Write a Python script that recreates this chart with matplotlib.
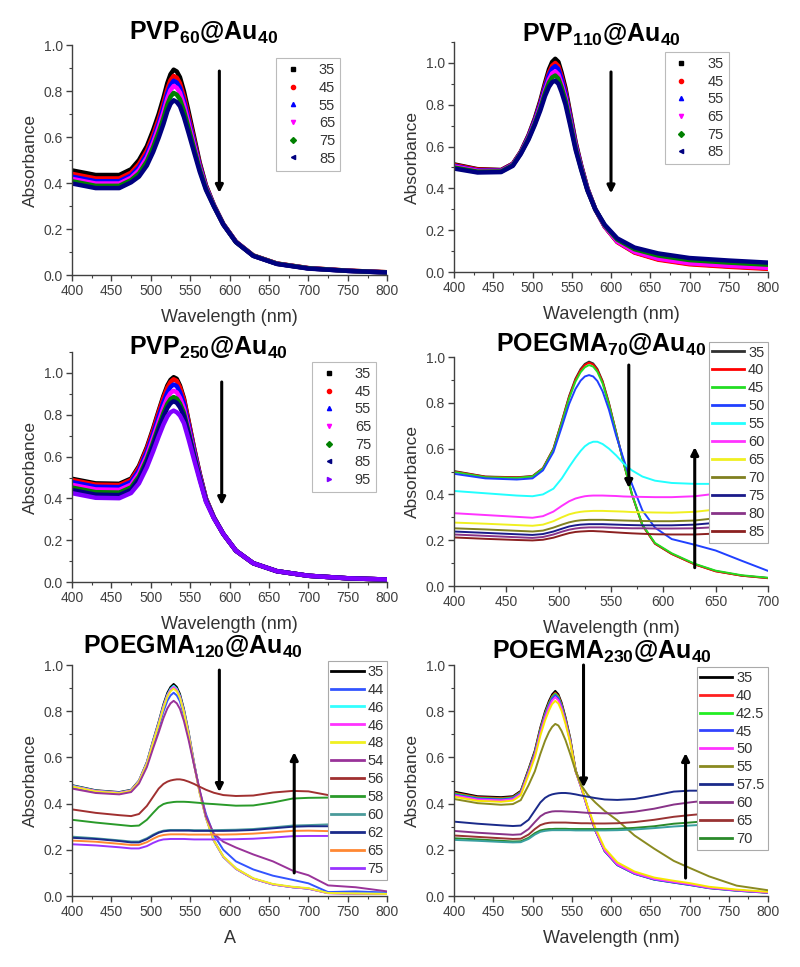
import matplotlib
matplotlib.use('Agg')
import matplotlib.pyplot as plt
from matplotlib.lines import Line2D
from matplotlib.ticker import MultipleLocator

plt.rcParams['font.family'] = ['Liberation Sans', 'DejaVu Sans']
plt.rcParams['mathtext.fontset'] = 'custom'
plt.rcParams['mathtext.rm'] = 'Liberation Sans'
plt.rcParams['mathtext.bf'] = 'Liberation Sans:bold'

# ---------------- data ----------------
wl_pvp = [400, 430, 460, 475, 485, 495, 503, 510, 516, 521, 525, 529, 533, 537, 542, 548,
          555, 562, 570, 580, 592, 608, 630, 660, 700, 750, 800]
wl_p70 = [400, 430, 460, 475, 485, 495, 503, 510, 516, 521, 525, 529, 533, 537, 542, 548,
          555, 562, 570, 580, 592, 608, 630, 650, 675, 700]
wl_poe = [400, 430, 460, 475, 485, 495, 503, 510, 516, 521, 525, 529, 533, 537, 542, 548,
          555, 562, 570, 580, 592, 608, 630, 655, 680, 700, 725, 760, 800]

# PVP60@Au40
pvp60_temps = ['35', '45', '55', '65', '75', '85']
pvp60_abs = [
    [.455, .435, .435, .460, .500, .560, .630, .700, .770, .835, .873, .893, .885, .860, .800, .710, .600, .490, .390, .305, .222, .145, .085, .050, .030, .019, .012],
    [.440, .420, .420, .445, .483, .541, .609, .678, .746, .809, .847, .866, .858, .834, .777, .691, .586, .482, .386, .304, .222, .145, .085, .050, .030, .019, .012],
    [.428, .408, .408, .433, .469, .526, .592, .660, .727, .790, .826, .845, .837, .814, .759, .676, .576, .476, .383, .303, .221, .144, .084, .049, .029, .018, .011],
    [.418, .398, .398, .423, .456, .511, .576, .643, .707, .768, .804, .822, .814, .793, .740, .660, .564, .469, .379, .301, .220, .144, .084, .049, .029, .018, .011],
    [.408, .388, .388, .413, .442, .494, .556, .621, .682, .741, .775, .792, .784, .764, .714, .639, .549, .460, .375, .300, .220, .143, .084, .049, .029, .018, .011],
    [.398, .378, .378, .403, .428, .476, .535, .597, .656, .712, .744, .760, .752, .734, .687, .617, .533, .450, .370, .298, .219, .143, .083, .048, .028, .018, .011],
]

# PVP110@Au40
pvp110_temps = ['35', '45', '55', '65', '75', '85']
pvp110_abs = [
    [.515, .492, .488, .518, .575, .655, .735, .820, .905, .970, 1.005, 1.020, 1.005, .955, .880, .760, .620, .510, .400, .300, .218, .145, .095, .062, .040, .028, .018],
    [.512, .490, .487, .517, .573, .651, .729, .811, .893, .954, .987, 1.000, .985, .937, .865, .749, .613, .506, .398, .300, .217, .143, .093, .059, .037, .025, .015],
    [.508, .486, .485, .515, .571, .648, .725, .804, .884, .942, .973, .985, .970, .923, .854, .741, .608, .503, .397, .300, .219, .147, .098, .066, .044, .032, .022],
    [.505, .484, .483, .513, .569, .643, .717, .793, .869, .922, .950, .960, .945, .901, .835, .727, .599, .498, .394, .300, .219, .146, .097, .064, .042, .030, .020],
    [.500, .480, .481, .511, .567, .639, .711, .784, .857, .906, .931, .940, .925, .883, .820, .716, .592, .494, .392, .300, .223, .155, .109, .079, .057, .045, .035],
    [.495, .476, .478, .508, .564, .634, .704, .773, .842, .886, .908, .915, .900, .861, .801, .702, .583, .489, .390, .300, .226, .161, .117, .089, .067, .055, .045],
]

# PVP250@Au40
pvp250_temps = ['35', '45', '55', '65', '75', '85', '95']
pvp250_abs = [
    [.494, .472, .470, .495, .555, .645, .735, .820, .890, .940, .967, .980, .972, .940, .880, .770, .640, .520, .400, .310, .230, .150, .090, .052, .030, .018, .012],
    [.488, .466, .464, .489, .548, .638, .727, .812, .881, .930, .957, .970, .962, .931, .873, .765, .637, .518, .399, .310, .230, .150, .090, .052, .030, .018, .012],
    [.478, .456, .454, .479, .536, .623, .710, .793, .860, .907, .933, .945, .937, .908, .854, .751, .628, .513, .397, .309, .230, .150, .090, .052, .030, .018, .012],
    [.465, .443, .441, .466, .521, .605, .690, .769, .834, .880, .904, .915, .907, .881, .831, .734, .617, .507, .394, .308, .230, .150, .090, .052, .030, .018, .012],
    [.452, .430, .428, .453, .505, .587, .669, .746, .808, .852, .875, .885, .877, .854, .809, .718, .607, .501, .391, .307, .230, .150, .090, .052, .030, .018, .012],
    [.440, .418, .416, .441, .492, .573, .654, .729, .790, .833, .855, .865, .857, .836, .794, .707, .600, .497, .388, .307, .230, .150, .090, .052, .030, .018, .012],
    [.425, .403, .401, .426, .472, .549, .625, .696, .753, .792, .812, .820, .812, .796, .760, .682, .584, .488, .384, .305, .230, .150, .090, .052, .030, .018, .012],
]

# POEGMA70@Au40
p70_temps = ['35', '40', '45', '50', '55', '60', '65', '70', '75', '80', '85']
p70_abs = [
    [.502, .478, .475, .480, .515, .600, .720, .830, .905, .948, .970, .980, .972, .948, .895, .800, .670, .540, .400, .265, .185, .140, .095, .065, .045, .035],
    [.500, .477, .474, .479, .514, .598, .717, .826, .900, .943, .965, .975, .967, .943, .891, .797, .668, .539, .400, .265, .185, .140, .094, .064, .045, .034],
    [.498, .475, .472, .478, .512, .595, .712, .819, .892, .934, .955, .965, .958, .935, .884, .792, .666, .539, .401, .268, .188, .143, .097, .067, .047, .036],
    [.490, .470, .465, .470, .505, .585, .695, .795, .860, .897, .915, .921, .915, .895, .850, .770, .655, .555, .445, .330, .255, .205, .180, .155, .110, .066],
    [.415, .405, .395, .392, .400, .425, .470, .520, .560, .590, .610, .623, .630, .630, .620, .600, .570, .535, .505, .478, .460, .450, .446, .446, .450, .455],
    [.318, .310, .302, .298, .305, .325, .350, .370, .382, .388, .392, .394, .395, .395, .395, .394, .393, .391, .390, .389, .388, .388, .392, .403, .415, .425],
    [.277, .272, .266, .263, .268, .283, .300, .313, .320, .324, .326, .327, .328, .328, .328, .327, .326, .325, .323, .322, .321, .320, .324, .334, .345, .352],
    [.252, .247, .241, .238, .242, .255, .268, .278, .284, .287, .288, .289, .289, .289, .289, .288, .287, .286, .285, .284, .283, .283, .286, .296, .305, .310],
    [.238, .232, .226, .223, .227, .238, .250, .260, .265, .268, .269, .270, .270, .270, .270, .269, .268, .267, .266, .265, .265, .265, .268, .276, .283, .288],
    [.225, .219, .213, .210, .214, .225, .237, .246, .251, .254, .255, .256, .256, .256, .256, .255, .254, .253, .252, .252, .251, .251, .252, .257, .262, .265],
    [.212, .206, .201, .199, .202, .211, .222, .231, .236, .238, .239, .240, .240, .239, .238, .236, .234, .232, .230, .228, .226, .225, .225, .229, .233, .236],
]

# POEGMA120@Au40
p120_temps = ['35', '44', '46', '46', '48', '54', '56', '58', '60', '62', '65', '75']
p120_abs = [
    [.480, .458, .450, .460, .500, .580, .675, .755, .830, .880, .905, .918, .905, .875, .810, .710, .575, .450, .340, .240, .170, .118, .075, .050, .038, .032, .013, .011, .010],
    [.470, .450, .443, .453, .492, .567, .655, .730, .798, .845, .868, .880, .868, .842, .782, .690, .568, .455, .355, .265, .200, .150, .115, .088, .070, .055, .017, .020, .015],
    [.478, .456, .448, .458, .498, .577, .671, .750, .823, .872, .897, .910, .897, .867, .803, .704, .571, .448, .339, .240, .170, .118, .075, .050, .038, .032, .013, .011, .010],
    [.476, .455, .447, .457, .497, .575, .668, .747, .819, .868, .892, .905, .892, .863, .799, .701, .569, .447, .339, .240, .170, .118, .075, .050, .038, .032, .012, .010, .009],
    [.474, .453, .445, .455, .495, .572, .664, .742, .813, .862, .886, .898, .886, .857, .794, .697, .567, .446, .339, .241, .172, .120, .077, .052, .040, .034, .013, .011, .009],
    [.465, .446, .440, .450, .487, .558, .640, .708, .770, .812, .834, .845, .834, .810, .758, .675, .565, .460, .345, .270, .235, .210, .180, .150, .110, .090, .046, .038, .020],
    [.375, .360, .350, .346, .355, .390, .430, .465, .485, .495, .500, .503, .505, .505, .502, .495, .485, .473, .460, .447, .437, .433, .435, .448, .455, .453, .437, .435, .435],
    [.330, .318, .308, .303, .305, .330, .360, .385, .398, .403, .405, .407, .408, .408, .408, .407, .405, .403, .400, .398, .395, .391, .392, .405, .422, .425, .426, .426, .426],
    [.257, .250, .241, .236, .236, .250, .266, .277, .283, .285, .286, .286, .286, .286, .286, .286, .285, .285, .285, .285, .286, .287, .290, .297, .305, .307, .310, .310, .310],
    [.252, .247, .238, .232, .232, .246, .262, .274, .280, .282, .283, .283, .283, .283, .283, .283, .282, .282, .282, .282, .282, .283, .286, .293, .300, .302, .302, .302, .302],
    [.240, .235, .226, .221, .221, .233, .248, .259, .264, .266, .267, .267, .267, .267, .267, .266, .266, .266, .266, .266, .266, .267, .270, .276, .282, .283, .281, .281, .281],
    [.224, .219, .211, .206, .206, .216, .230, .240, .245, .246, .247, .247, .247, .247, .247, .246, .245, .245, .245, .245, .245, .246, .248, .253, .259, .260, .260, .260, .260],
]

# POEGMA230@Au40 (the yellow and teal traces have no legend entry in the original)
p230_temps = ['35', '40', '42.5', '45', '50', '', '55', '57.5', '60', '65', '70', '']
p230_abs = [
    [.452, .432, .428, .432, .455, .550, .630, .730, .800, .845, .873, .888, .873, .838, .775, .685, .545, .475, .385, .285, .195, .135, .098, .073, .060, .050, .036, .025, .015],
    [.447, .428, .424, .428, .451, .545, .624, .723, .792, .837, .865, .880, .866, .831, .769, .680, .543, .472, .384, .285, .195, .135, .097, .072, .059, .049, .035, .024, .015],
    [.444, .425, .421, .426, .449, .542, .621, .719, .788, .833, .861, .876, .862, .827, .766, .677, .541, .471, .383, .284, .194, .134, .096, .071, .058, .048, .034, .023, .014],
    [.440, .422, .418, .423, .446, .538, .616, .713, .782, .827, .855, .870, .856, .822, .761, .673, .539, .470, .382, .284, .194, .134, .096, .071, .058, .048, .034, .023, .014],
    [.436, .418, .414, .419, .442, .533, .610, .706, .774, .818, .846, .860, .847, .814, .755, .669, .538, .470, .383, .286, .197, .137, .099, .074, .061, .051, .036, .025, .015],
    [.430, .412, .408, .413, .436, .525, .600, .694, .760, .803, .831, .845, .833, .802, .746, .664, .540, .475, .390, .295, .207, .146, .106, .080, .066, .056, .040, .028, .018],
    [.420, .402, .395, .398, .415, .480, .540, .615, .672, .710, .732, .745, .738, .715, .675, .615, .540, .480, .440, .405, .368, .328, .262, .205, .152, .122, .085, .045, .025],
    [.322, .313, .306, .303, .305, .330, .370, .405, .425, .435, .440, .443, .445, .446, .446, .444, .440, .435, .430, .424, .418, .416, .420, .435, .452, .456, .456, .456, .456],
    [.282, .274, .268, .265, .267, .290, .320, .345, .358, .363, .366, .367, .367, .367, .366, .365, .364, .362, .360, .359, .358, .358, .365, .378, .396, .405, .415, .420, .425],
    [.262, .256, .250, .247, .248, .266, .290, .307, .314, .317, .318, .318, .318, .318, .318, .317, .316, .315, .315, .314, .314, .315, .320, .330, .343, .350, .358, .365, .370],
    [.250, .245, .239, .236, .237, .252, .272, .284, .288, .290, .290, .291, .291, .291, .291, .290, .290, .290, .290, .290, .290, .291, .295, .302, .313, .318, .325, .332, .338],
    [.243, .239, .234, .232, .233, .247, .266, .278, .282, .284, .285, .285, .285, .285, .285, .285, .284, .284, .284, .284, .284, .285, .288, .294, .301, .305, .310, .315, .320],
]

# ---------------- styles ----------------
dot_colors = ['#000000', '#ff0000', '#0000ff', '#ff00ff', '#008000', '#000080', '#8000ff']
dot_markers = ['s', 'o', '^', 'v', 'D', '<', '>']
p70_colors = ['#303030', '#ff0000', '#22dd22', '#2040ff', '#22ffff', '#ff33ff', '#f0f020',
              '#808020', '#1a1a8a', '#883388', '#8b2020']
p120_colors = ['#000000', '#3355ff', '#33ffff', '#ff33ff', '#f0f020', '#993399', '#a03030',
               '#2a9a2a', '#4a9a9a', '#1a2a8a', '#ff8833', '#9933ff']
p230_colors = ['#000000', '#ff2020', '#22ee22', '#3344ff', '#ff33ff', '#f5e800', '#8a8a20',
               '#1a2a8a', '#883388', '#993333', '#2a8a2a', '#3aa0a0']

GRAY = '#404040'


def style_axes(ax, xmax, ymax):
    ax.set_xlim(400, xmax)
    ax.set_ylim(0, ymax)
    ax.xaxis.set_major_locator(MultipleLocator(50))
    ax.xaxis.set_minor_locator(MultipleLocator(25))
    ax.yaxis.set_minor_locator(MultipleLocator(0.1))
    ax.set_yticks([0, 0.2, 0.4, 0.6, 0.8, 1.0])
    ax.yaxis.set_major_formatter(plt.FuncFormatter(lambda v, p: f'{v:.1f}'))
    for s in ['top', 'right']:
        ax.spines[s].set_visible(False)
    for s in ['left', 'bottom']:
        ax.spines[s].set_color(GRAY)
        ax.spines[s].set_linewidth(1.0)
    ax.tick_params(which='major', direction='out', length=4, width=1.0, color=GRAY,
                   labelcolor=GRAY, labelsize=10, pad=2.5)
    ax.tick_params(which='minor', direction='out', length=2.5, width=0.8, color=GRAY)
    ax.set_ylabel('Absorbance', fontsize=12.5, color='#333333', labelpad=4)


def dot_panel(ax, wl, curves, temps, xmax, ymax, leg_anchor):
    handles = []
    for i, (y, t) in enumerate(zip(curves, temps)):
        ax.plot(wl, y, color=dot_colors[i], lw=3.2, solid_capstyle='round', solid_joinstyle='round')
        handles.append(Line2D([], [], ls='none', marker=dot_markers[i], ms=3, color=dot_colors[i]))
    style_axes(ax, xmax, ymax)
    leg = ax.legend(handles, temps, loc='upper right', bbox_to_anchor=leg_anchor, fontsize=10.5,
                    frameon=True, fancybox=False, edgecolor='#aaaaaa', handlelength=1.6,
                    handletextpad=1.0, labelspacing=0.25, borderpad=0.35, borderaxespad=0)
    leg.get_frame().set_linewidth(0.8)
    for txt in leg.get_texts():
        txt.set_color('#333333')


def line_panel(ax, wl, curves, temps, colors, xmax, leg_anchor):
    for y, t, c in zip(curves, temps, colors):
        ax.plot(wl, y, color=c, lw=1.4, label=t if t else '_nolegend_')
    style_axes(ax, xmax, 1.0)
    leg = ax.legend(loc='upper right', bbox_to_anchor=leg_anchor, fontsize=10.5,
                    frameon=True, fancybox=False, edgecolor='#aaaaaa', handlelength=2.2,
                    handletextpad=0.25, labelspacing=0.27, borderpad=0.25, borderaxespad=0,
                    framealpha=1.0)
    leg.get_frame().set_linewidth(0.8)
    for h in leg.get_lines():
        h.set_linewidth(2.0)
    for txt in leg.get_texts():
        txt.set_color('#333333')
    leg.set_zorder(5)


def arrow(ax, x, y0, y1):
    ax.annotate('', xy=(x, y1), xytext=(x, y0),
                arrowprops=dict(arrowstyle='-|>', lw=2.2, color='k', mutation_scale=11,
                                shrinkA=0, shrinkB=0), zorder=6)


fig = plt.figure(figsize=(8.0, 9.67), dpi=100)

ax1 = fig.add_axes([0.090, 0.7156, 0.394, 0.2378])
ax2 = fig.add_axes([0.5675, 0.7187, 0.3925, 0.2378])
ax3 = fig.add_axes([0.090, 0.3981, 0.394, 0.2378])
ax4 = fig.add_axes([0.5675, 0.3940, 0.3925, 0.2368])
ax5 = fig.add_axes([0.090, 0.0734, 0.394, 0.2389])
ax6 = fig.add_axes([0.5675, 0.0734, 0.3925, 0.2389])

dot_panel(ax1, wl_pvp, pvp60_abs, pvp60_temps, 800, 1.0, (0.851, 0.943))
dot_panel(ax2, wl_pvp, pvp110_abs, pvp110_temps, 800, 1.1, (0.876, 0.957))
dot_panel(ax3, wl_pvp, pvp250_abs, pvp250_temps, 800, 1.1, (0.965, 0.957))
line_panel(ax4, wl_p70, p70_abs, p70_temps, p70_colors, 700, (1.0, 1.066))
line_panel(ax5, wl_poe, p120_abs, p120_temps, p120_colors, 800, (1.0, 1.017))
line_panel(ax6, wl_poe, p230_abs, p230_temps, p230_colors, 800, (1.0, 0.991))

for ax in [ax1, ax2, ax3, ax4, ax6]:
    ax.set_xlabel('Wavelength (nm)', fontsize=13, color='#333333', labelpad=8)
ax5.set_xlabel('A', fontsize=13, color='#333333', labelpad=8)

arrow(ax1, 587, 0.887, 0.357)
arrow(ax2, 600, 0.957, 0.376)
arrow(ax3, 590, 0.957, 0.368)
arrow(ax4, 567, 0.965, 0.428)
arrow(ax4, 630, 0.080, 0.607)
arrow(ax5, 587, 0.978, 0.450)
arrow(ax5, 682, 0.100, 0.623)
arrow(ax6, 565, 1.000, 0.470)
arrow(ax6, 695, 0.078, 0.619)

titles = [
    (0.254, 1 - 33 / 967, r'$\mathbf{PVP_{60}@Au_{40}}$'),
    (0.752, 1 - 35 / 967, r'$\mathbf{PVP_{110}@Au_{40}}$'),
    (0.260, 1 - 348 / 967, r'$\mathbf{PVP_{250}@Au_{40}}$'),
    (0.752, 1 - 345 / 967, r'$\mathbf{POEGMA_{70}@Au_{40}}$'),
    (0.241, 1 - 647 / 967, r'$\mathbf{POEGMA_{120}@Au_{40}}$'),
    (0.752, 1 - 652 / 967, r'$\mathbf{POEGMA_{230}@Au_{40}}$'),
]
for x, y, s in titles:
    fig.text(x, y, s, ha='center', va='center', fontsize=18, color='k', zorder=10)

fig.savefig('out.png', dpi=100)
